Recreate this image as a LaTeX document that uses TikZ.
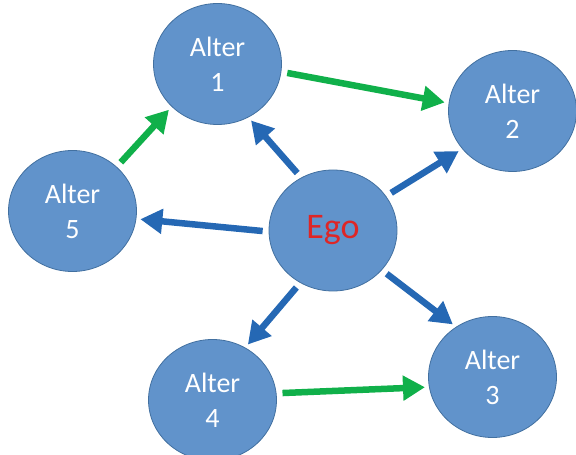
\documentclass[tikz,border=0pt]{standalone}
\usepackage{fontspec}
\setmainfont{Carlito}
\usetikzlibrary{shapes.geometric,arrows.meta}
\definecolor{nodeblue}{RGB}{97,147,203}
\definecolor{nodeedge}{RGB}{66,112,160}
\definecolor{tieblue}{RGB}{37,104,180}
\definecolor{tiegreen}{RGB}{16,176,74}
\definecolor{egored}{RGB}{222,38,38}
\begin{document}
\begin{tikzpicture}[x=1pt,y=1pt,
        person/.style={ellipse,fill=nodeblue,draw=nodeedge,line width=0.8pt,minimum width=128pt,minimum height=121pt,inner sep=0pt,text=white,align=center,font=\fontsize{28}{35}\selectfont},
        tie/.style={line width=6.5pt,-{Triangle[length=22pt,width=24pt]},shorten <=6pt,shorten >=4pt},
        egotie/.style={tie,tieblue},
        alttie/.style={tie,tiegreen}]
        \useasboundingbox (0,0) rectangle (576,455);
        
        % 节点
        \node[person] (a1) at (217.5,391) {Alter\\1};
        \node[person] (a2) at (512.5,344) {Alter\\2};
        \node[person] (a3) at (492.5,78) {Alter\\3};
        \node[person] (a4) at (212.5,55) {Alter\\4};
        \node[person] (a5) at (72.5,244) {Alter\\5};
        \node[person,text=egored,font=\fontsize{36}{42}\selectfont] (ego) at (333,224.5) {Ego};
        
        % Ego 指向 Alter
        \draw[egotie] (ego.121) -- (a1.-60);
        \draw[egotie] (ego.33) -- (a2.217);
        \draw[egotie] (ego.-39) -- (a3.126);
        \draw[egotie] (ego.238) -- (a4.58);
        \draw[egotie] (ego.181) -- (a5.-7);
        
        % Alter 之间
        \draw[alttie] (a1.-7) -- (a2.173);
        \draw[alttie] (a4.6) -- (a3.189);
        \draw[alttie] (a5.45) -- (a1.223);
    \end{tikzpicture}
\end{document}
